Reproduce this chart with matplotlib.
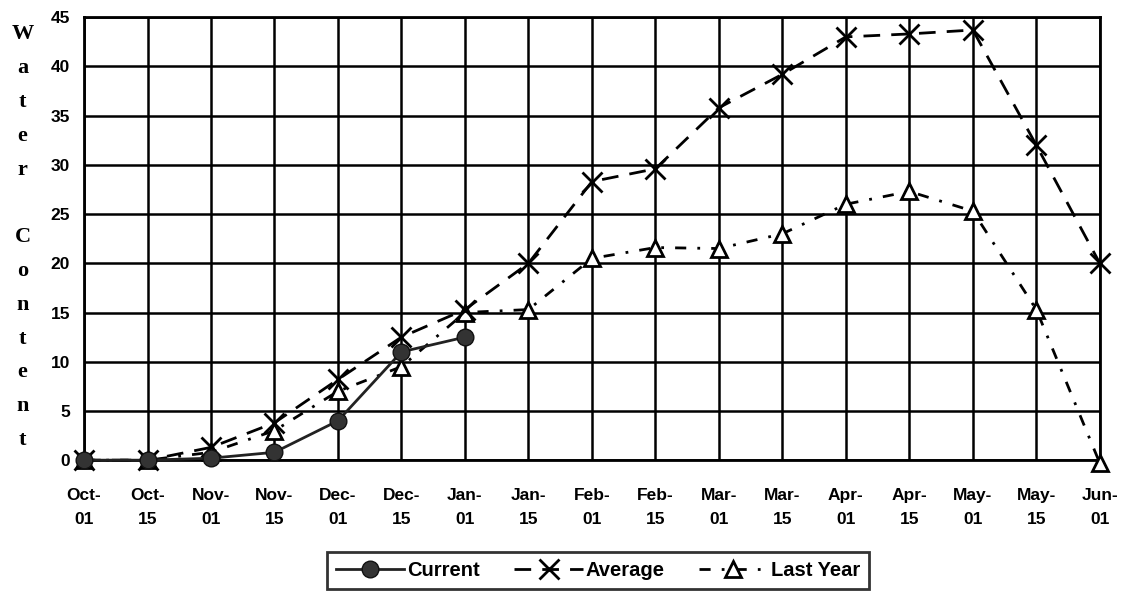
import numpy as np
import matplotlib.pyplot as plt

# category labels along the x axis
dates = ["Oct-\n01", "Oct-\n15", "Nov-\n01", "Nov-\n15", "Dec-\n01", "Dec-\n15",
         "Jan-\n01", "Jan-\n15", "Feb-\n01", "Feb-\n15", "Mar-\n01", "Mar-\n15",
         "Apr-\n01", "Apr-\n15", "May-\n01", "May-\n15", "Jun-\n01"]

current = [0, 0, 0.2, 0.8, 4.0, 11.0, 12.5]
average = [0, 0, 1.3, 3.8, 8.2, 12.5, 15.3, 20.0, 28.3, 29.6, 35.8, 39.2,
           43.0, 43.3, 43.7, 32.0, 20.0]
last_year = [0, 0, 0.8, 3.0, 7.0, 9.5, 15.0, 15.3, 20.5, 21.6, 21.5, 23.0,
             26.0, 27.3, 25.3, 15.3, -0.3]

yticks = [0, 5, 10, 15, 20, 25, 30, 35, 40, 45]

fig = plt.figure(figsize=(11.28, 5.93), dpi=100)
ax = fig.add_axes([0.0745, 0.224, 0.9005, 0.747])

x = np.arange(len(dates))

ax.plot(x[:len(current)], current, color="#222222", lw=2, marker="o", ms=12,
        mfc="#333333", mec="#111111", clip_on=False, zorder=5, label="Current")
ax.plot(x, average, color="black", lw=2, ls=(0, (6, 4)), marker="x", ms=15, mew=2,
        clip_on=False, zorder=4, label="Average")
ax.plot(x, last_year, color="black", lw=2, ls=(0, (4, 4, 1, 4)), marker="^", ms=11,
        mfc="white", mec="black", mew=2, clip_on=False, zorder=3, label="Last Year")

ax.set_xlim(0, len(dates) - 1)
ax.set_ylim(0, 45)
ax.set_xticks(x)
ax.set_xticklabels(dates, fontsize=12.5, fontweight="bold", family="Liberation Sans",
                   linespacing=1.75)
ax.set_yticks(yticks)
ax.set_yticklabels([str(v) for v in yticks], fontsize=12.5, fontweight="bold",
                   family="Liberation Sans")
ax.tick_params(axis="x", length=0, pad=20)
ax.tick_params(axis="y", length=0, pad=10)
ax.grid(True, color="black", lw=1.8)
ax.set_axisbelow(True)
for s in ax.spines.values():
    s.set_linewidth(2)

fig.text(0.02, 0.60, "W\na\nt\ne\nr\n\nC\no\nn\nt\ne\nn\nt", ha="center", va="center",
         fontsize=16, fontweight="bold", family="Liberation Serif", linespacing=1.92)

leg = fig.legend(loc="lower center", bbox_to_anchor=(0.53, 0.006), ncol=3,
                 frameon=True, fancybox=False, handlelength=3.4, columnspacing=1.7,
                 handletextpad=0.15, borderpad=0.45, borderaxespad=0,
                 prop={"family": "Liberation Sans", "weight": "bold", "size": 14.5})
leg.get_frame().set_edgecolor("black")
leg.get_frame().set_linewidth(2)

fig.savefig("out.png", dpi=100)
